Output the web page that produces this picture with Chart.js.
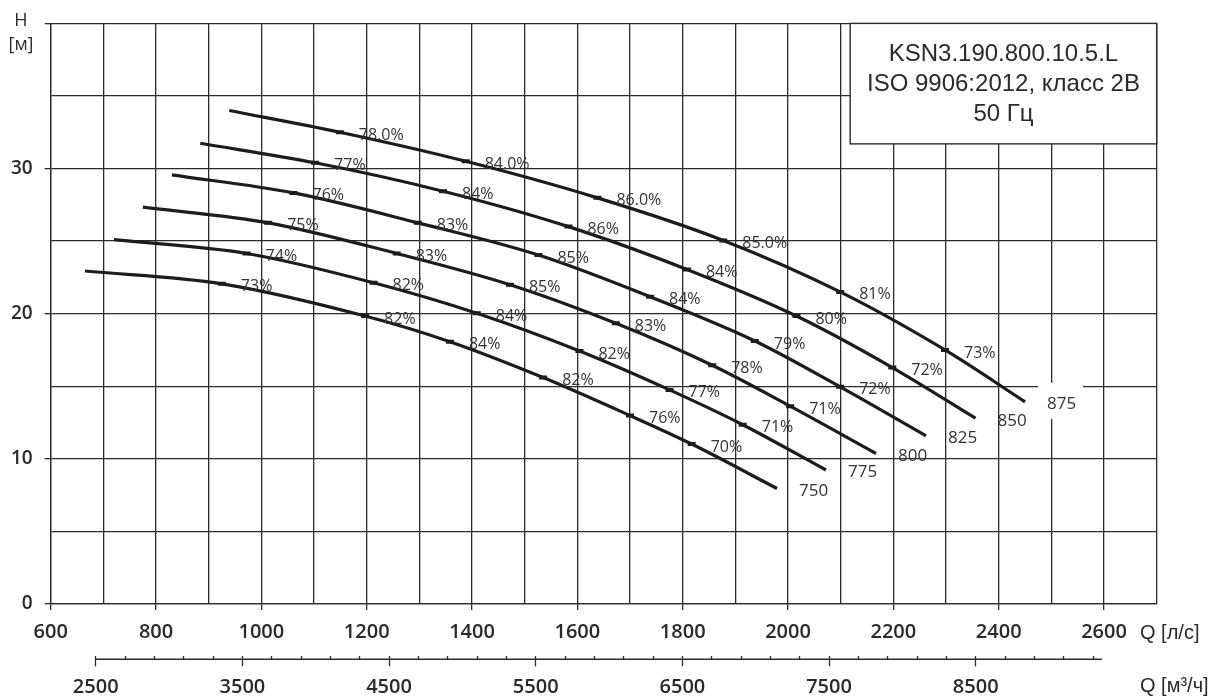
<!DOCTYPE html>
<html>
<head>
<meta charset="utf-8">
<script src="https://cdn.jsdelivr.net/npm/chart.js@4/dist/chart.umd.min.js"></script>
<style>
    html, body { margin: 0; padding: 0; background: #fff; }
    #wrap { width: 1213px; height: 697px; position: relative; }
</style>
</head>
<body>
<div id="wrap"><canvas id="pumpChart"></canvas></div>
<script>
// impeller diameters, one curve each
const diameters = ['750', '775', '800', '825', '850', '875'];

// Q [l/s] and H [m] (start, efficiency marks, end)
const q750 = [665, 925, 1197, 1358, 1535, 1700, 1817, 1979];
const h750 = [22.94, 22.06, 19.84, 18.07, 15.6, 12.98, 11.02, 7.96];
const eff750 = ['', '73%', '82%', '84%', '82%', '76%', '70%', ''];

const q775 = [720, 972, 1213, 1409, 1604, 1775, 1914, 2072];
const h775 = [25.1, 24.15, 22.13, 20.03, 17.43, 14.75, 12.35, 9.23];
const eff775 = ['', '74%', '82%', '84%', '82%', '77%', '71%', ''];

const q800 = [775, 1013, 1257, 1472, 1673, 1856, 2004, 2167];
const h800 = [27.34, 26.26, 24.15, 22.0, 19.34, 16.45, 13.63, 10.37];
const eff800 = ['', '75%', '83%', '85%', '83%', '78%', '71%', ''];

const q825 = [830, 1061, 1297, 1526, 1738, 1937, 2099, 2262];
const h825 = [29.56, 28.32, 26.26, 24.04, 21.17, 18.12, 14.96, 11.59];
const eff825 = ['', '76%', '83%', '85%', '84%', '79%', '72%', ''];

const q850 = [884, 1102, 1345, 1583, 1808, 2016, 2198, 2356];
const h850 = [31.74, 30.4, 28.44, 26.0, 23.05, 19.84, 16.29, 12.8];
const eff850 = ['', '77%', '84%', '86%', '84%', '80%', '72%', ''];

const q875 = [939, 1149, 1388, 1638, 1877, 2099, 2298, 2450];
const h875 = [34.0, 32.5, 30.5, 27.98, 25.05, 21.5, 17.5, 13.93];
const eff875 = ['', '78.0%', '84.0%', '86.0%', '85.0%', '81%', '73%', ''];

// axis labels
const qLabels = [600, 800, 1000, 1200, 1400, 1600, 1800, 2000, 2200, 2400, 2600];
const m3hLabels = [2500, 3500, 4500, 5500, 6500, 7500, 8500];
const hLabels = [0, 10, 20, 30];
const titleLines = ['KSN3.190.800.10.5.L', 'ISO 9906:2012, класс 2B', '50 Гц'];

const qs = [q750, q775, q800, q825, q850, q875];
const hs = [h750, h775, h800, h825, h850, h875];
const effs = [eff750, eff775, eff800, eff825, eff850, eff875];

const INK = '#1c1c1c';
const GRID = '#2b2b2b';
const TEXT = '#2a2a2a';

const datasets = diameters.map((d, i) => ({
    label: d,
    data: qs[i].map((q, j) => ({ x: q, y: hs[i][j] })),
    showLine: true,
    fill: false,
    borderColor: INK,
    borderWidth: 3.2,
    cubicInterpolationMode: 'monotone',
    pointStyle: 'line',
    pointRadius: ctx => (effs[i][ctx.dataIndex] ? 4 : 0),
    pointBorderWidth: 4,
    pointBorderColor: INK,
    pointBackgroundColor: INK,
}));

const overlay = {
    id: 'overlay',
    afterDatasetsDraw(chart) {
        const ctx = chart.ctx;
        ctx.save();
        // white patch behind the top curve's label
        const top = chart.getDatasetMeta(diameters.length - 1).data;
        const lp = top[top.length - 1];
        ctx.fillStyle = '#fff';
        ctx.fillRect(lp.x + 13, lp.y - 19, 45, 36);

        ctx.fillStyle = '#333';
        ctx.textBaseline = 'middle';
        ctx.textAlign = 'left';
        diameters.forEach((d, i) => {
            const pts = chart.getDatasetMeta(i).data;
            ctx.font = '16px "Open Sans", "DejaVu Sans", sans-serif';
            effs[i].forEach((t, j) => {
                if (!t) return;
                ctx.fillText(t, pts[j].x + 19, pts[j].y + 3);
            });
            const end = pts[pts.length - 1];
            ctx.font = '17px "Open Sans", "DejaVu Sans", sans-serif';
            ctx.fillText(d, end.x + 22, end.y + 2.5);
        });
        ctx.restore();
    },
    afterDraw(chart) {
        const ctx = chart.ctx;
        const x = chart.scales.x;
        const y = chart.scales.y;
        const x2 = chart.scales.x2;
        ctx.save();

        // title box in the upper right corner
        const bx1 = x.getPixelForValue(2118);
        const bx2 = x.right;
        const by1 = y.top;
        const by2 = y.getPixelForValue(31.7);
        ctx.fillStyle = '#fff';
        ctx.fillRect(bx1, by1, bx2 - bx1, by2 - by1);
        ctx.strokeStyle = GRID;
        ctx.lineWidth = 1.4;
        ctx.strokeRect(bx1, by1, bx2 - bx1, by2 - by1);
        ctx.fillStyle = TEXT;
        ctx.textAlign = 'center';
        ctx.textBaseline = 'middle';
        ctx.font = '24px "Liberation Sans", Arial, sans-serif';
        titleLines.forEach((t, i) => ctx.fillText(t, (bx1 + bx2) / 2, by1 + 31 + i * 30));

        // y axis name
        ctx.font = '18px "Open Sans", sans-serif';
        ctx.fillText('H', 21, 21);
        ctx.fillText('[м]', 21, 45);

        // x axis names
        ctx.textAlign = 'left';
        ctx.font = '20px "Liberation Sans", Arial, sans-serif';
        ctx.fillText('Q [л/с]', 1140, 633);
        ctx.fillText('Q [м³/ч]', 1140, 686);

        // second flow axis line
        ctx.strokeStyle = GRID;
        ctx.lineWidth = 1.4;
        ctx.beginPath();
        ctx.moveTo(x2.getPixelForValue(2500), x2.top + 3);
        ctx.lineTo(x2.getPixelForValue(9360), x2.top + 3);
        ctx.stroke();
        ctx.restore();
    }
};

new Chart(document.getElementById('pumpChart'), {
    type: 'scatter',
    data: { datasets },
    options: {
        responsive: true,
        maintainAspectRatio: false,
        animation: false,
        layout: { padding: { top: 22.7, right: 56.3, left: 0, bottom: 0 } },
        plugins: {
            legend: { display: false },
            tooltip: { enabled: false },
        },
        scales: {
            x: {
                type: 'linear',
                position: 'bottom',
                min: 600,
                max: 2700,
                weight: 0,
                afterFit: s => { s.height = 52.3; },
                ticks: {
                    stepSize: 100,
                    autoSkip: false,
                    maxRotation: 0,
                    padding: 10,
                    color: TEXT,
                    font: { family: '"Open Sans", sans-serif', size: 20, weight: '600' },
                    callback: v => (qLabels.includes(v) ? String(v) : ''),
                },
                grid: {
                    color: GRID,
                    lineWidth: 1.3,
                    tickLength: 6,
                    tickWidth: 1.3,
                    tickColor: c => (c.tick && qLabels.includes(c.tick.value) ? GRID : 'rgba(0,0,0,0)'),
                },
                border: { color: GRID, width: 1.3 },
            },
            x2: {
                type: 'linear',
                position: 'bottom',
                min: 2193,
                max: 9734,
                weight: 1,
                afterFit: s => { s.height = 40.7; },
                afterBuildTicks: s => {
                    const t = [];
                    for (let v = 2500; v <= 9300; v += 200) t.push({ value: v });
                    s.ticks = t;
                },
                ticks: {
                    autoSkip: false,
                    maxRotation: 0,
                    padding: 9,
                    color: TEXT,
                    font: { family: '"Open Sans", sans-serif', size: 20, weight: '600' },
                    callback: v => (m3hLabels.includes(v) ? String(v) : ''),
                },
                grid: {
                    drawOnChartArea: false,
                    tickLength: 10,
                    tickWidth: 1.3,
                    tickColor: GRID,
                    tickBorderDash: c => (c.tick && m3hLabels.includes(c.tick.value) ? [] : [3, 60]),
                },
                border: { display: false },
            },
            y: {
                type: 'linear',
                min: 0,
                max: 40,
                afterFit: s => { s.width = 50.7; },
                ticks: {
                    stepSize: 5,
                    padding: 12,
                    color: TEXT,
                    font: { family: '"Open Sans", sans-serif', size: 19, weight: '600' },
                    callback: v => (hLabels.includes(v) ? String(v) : ''),
                },
                grid: {
                    color: GRID,
                    lineWidth: 1.3,
                    tickLength: 6,
                    tickWidth: 1.3,
                    tickColor: c => (c.tick && c.tick.value % 10 === 0 ? GRID : 'rgba(0,0,0,0)'),
                },
                border: { color: GRID, width: 1.3 },
            },
        },
    },
    plugins: [overlay],
});
</script>
</body>
</html>
